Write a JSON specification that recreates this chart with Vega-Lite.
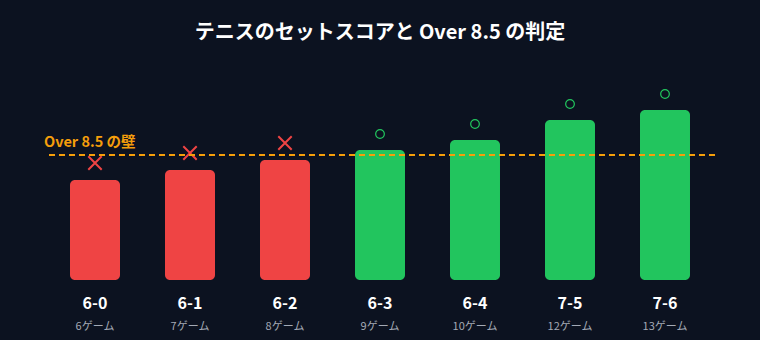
{
  "$schema": "https://vega.github.io/schema/vega-lite/v6.json",
  "autosize": "none",
  "width": 670,
  "height": 210,
  "padding": {"left": 45, "top": 70, "right": 45, "bottom": 60},
  "background": "#0c1220",
  "config": {"view": {"stroke": null}, "font": "Noto Sans CJK JP"},
  "title": {
    "text": "テニスのセットスコアと Over 8.5 の判定",
    "color": "#ffffff",
    "fontSize": 20,
    "fontWeight": "bold",
    "font": "Noto Sans CJK JP",
    "anchor": "middle",
    "offset": 27
  },
  "data": {
    "values": [
      {"score": "6-0", "games": 6, "label": "6ゲーム", "result": "under"},
      {"score": "6-1", "games": 7, "label": "7ゲーム", "result": "under"},
      {"score": "6-2", "games": 8, "label": "8ゲーム", "result": "under"},
      {"score": "6-3", "games": 9, "label": "9ゲーム", "result": "over"},
      {"score": "6-4", "games": 10, "label": "10ゲーム", "result": "over"},
      {"score": "7-5", "games": 12, "label": "12ゲーム", "result": "over"},
      {"score": "7-6", "games": 13, "label": "13ゲーム", "result": "over"}
    ]
  },
  "encoding": {
    "x": {"field": "score", "type": "nominal", "sort": null, "axis": null,
          "scale": {"paddingInner": 0.4737, "paddingOuter": 0.2632}}
  },
  "layer": [
    {
      "mark": {"type": "bar", "cornerRadius": 5},
      "encoding": {
        "y": {"field": "games", "type": "quantitative", "axis": null,
              "scale": {"domain": [-4, 17], "zero": false, "nice": false}},
        "y2": {"datum": -4},
        "color": {"field": "result", "type": "nominal", "legend": null,
                  "scale": {"domain": ["under", "over"], "range": ["#ef4444", "#22c55e"]}}
      }
    },
    {
      "transform": [{"filter": "datum.result === 'under'"}],
      "mark": {"type": "point", "shape": "M-1,-1L1,1M1,-1L-1,1", "size": 180, "filled": false, "strokeWidth": 2, "color": "#ef4444", "opacity": 1, "yOffset": -17},
      "encoding": {"y": {"field": "games", "type": "quantitative"}}
    },
    {
      "transform": [{"filter": "datum.result === 'over'"}],
      "mark": {"type": "point", "shape": "circle", "size": 75, "filled": false, "strokeWidth": 1.2, "color": "#22c55e", "opacity": 1, "yOffset": -16},
      "encoding": {"y": {"field": "games", "type": "quantitative"}}
    },
    {
      "mark": {"type": "rule", "color": "#f59e0b", "strokeWidth": 2, "strokeDash": [6, 4]},
      "encoding": {"y": {"datum": 8.5}, "x": null}
    },
    {
      "data": {"values": [{"score": "6-0", "t": "Over 8.5 の壁"}]},
      "mark": {"type": "text", "color": "#f59e0b", "fontSize": 14.5, "fontWeight": "bold", "align": "left", "baseline": "bottom", "dx": -51, "dy": -5},
      "encoding": {"y": {"datum": 8.5}, "text": {"field": "t"}}
    },
    {
      "mark": {"type": "text", "color": "#ffffff", "fontSize": 16, "fontWeight": "bold", "baseline": "middle", "dy": 24},
      "encoding": {"y": {"datum": -4}, "text": {"field": "score"}}
    },
    {
      "mark": {"type": "text", "color": "#a3a9b5", "fontSize": 11, "baseline": "middle", "dy": 47},
      "encoding": {"y": {"datum": -4}, "text": {"field": "label"}}
    }
  ]
}
